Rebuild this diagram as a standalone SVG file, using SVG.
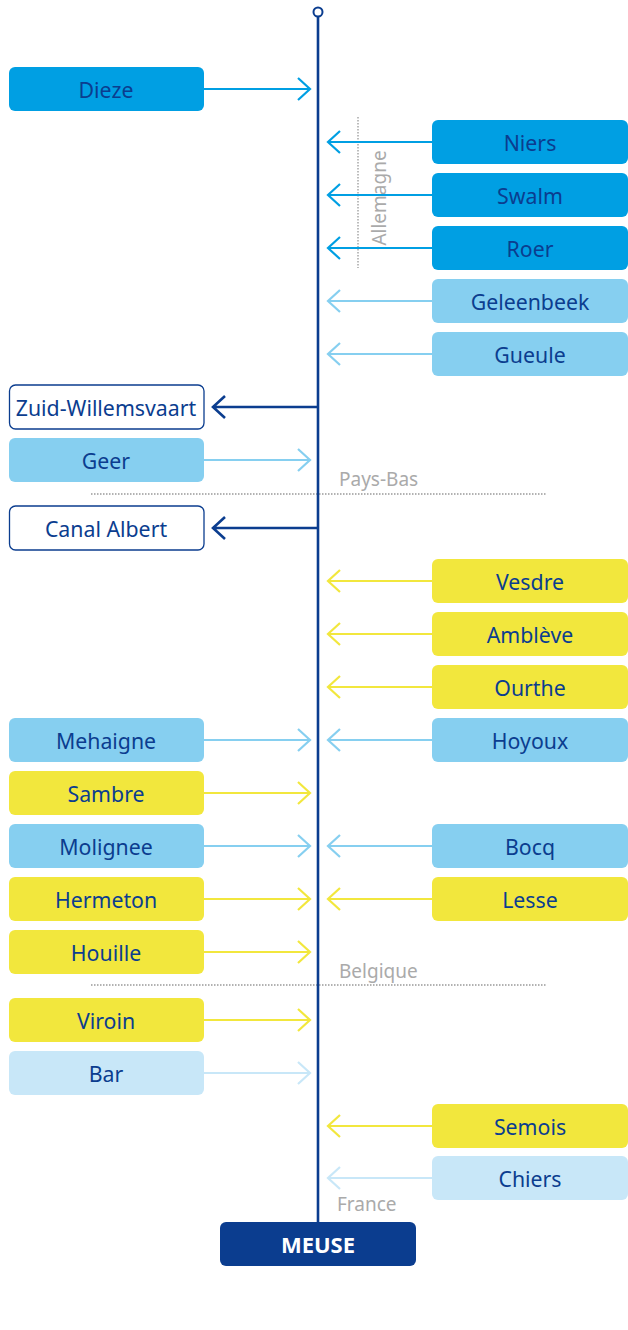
<svg xmlns="http://www.w3.org/2000/svg" width="628" height="1330" viewBox="0 0 628 1330">
<style>
.box{stroke:none}
.b1{fill:#009fe3}.b2{fill:#86cff0}.b3{fill:#c8e7f8}.by{fill:#f2e73d}
.bo{fill:#ffffff;stroke:#0b3d8f;stroke-width:1.3}
.t{font-family:"Noto Sans","Open Sans",sans-serif;font-size:21.3px;fill:#0b3d8f;text-anchor:middle}
.g{font-family:"Noto Sans","Open Sans",sans-serif;font-size:19px;fill:#aaaaaa}
.c{fill:none;stroke-width:2.2}
.c1{stroke:#009fe3}.c2{stroke:#86cff0}.c3{stroke:#c8e7f8}.cy{stroke:#f2e73d}.cd{stroke:#0b3d8f;stroke-width:2.6}
.dot{stroke:#999;stroke-width:1.3;stroke-dasharray:1.5 1.5;fill:none}
</style>
<rect width="628" height="1330" fill="#ffffff"/>
<g id="borders">
<line class="dot" x1="358" y1="117" x2="358" y2="268"/>
<text class="g" transform="translate(386,198) rotate(-90)" text-anchor="middle">Allemagne</text>
<line class="dot" x1="91" y1="494" x2="546" y2="494"/>
<text class="g" x="339" y="486">Pays-Bas</text>
<line class="dot" x1="91" y1="985" x2="546" y2="985"/>
<text class="g" x="339" y="978">Belgique</text>
<text class="g" x="337" y="1211">France</text>
</g>
<g id="connectors">
<line x1="318" y1="16.5" x2="318" y2="1222" stroke="#0b3d8f" stroke-width="2.6"/>
<circle cx="318" cy="12" r="4.5" fill="#fff" stroke="#0b3d8f" stroke-width="2"/>
<path class="c c1" d="M204 89H310M298 78L310 89L298 100"/>
<path class="c c1" d="M432 142H328M340 131L328 142L340 153"/>
<path class="c c1" d="M432 195H328M340 184L328 195L340 206"/>
<path class="c c1" d="M432 248H328M340 237L328 248L340 259"/>
<path class="c c2" d="M432 301H328M340 290L328 301L340 312"/>
<path class="c c2" d="M432 354H328M340 343L328 354L340 365"/>
<path class="c cd" d="M318 407H213M225 396L213 407L225 418"/>
<path class="c c2" d="M204 460H310M298 449L310 460L298 471"/>
<path class="c cd" d="M318 528H213M225 517L213 528L225 539"/>
<path class="c cy" d="M432 581H328M340 570L328 581L340 592"/>
<path class="c cy" d="M432 634H328M340 623L328 634L340 645"/>
<path class="c cy" d="M432 687H328M340 676L328 687L340 698"/>
<path class="c c2" d="M204 740H310M298 729L310 740L298 751"/>
<path class="c c2" d="M432 740H328M340 729L328 740L340 751"/>
<path class="c cy" d="M204 793H310M298 782L310 793L298 804"/>
<path class="c c2" d="M204 846H310M298 835L310 846L298 857"/>
<path class="c c2" d="M432 846H328M340 835L328 846L340 857"/>
<path class="c cy" d="M204 899H310M298 888L310 899L298 910"/>
<path class="c cy" d="M432 899H328M340 888L328 899L340 910"/>
<path class="c cy" d="M204 952H310M298 941L310 952L298 963"/>
<path class="c cy" d="M204 1020H310M298 1009L310 1020L298 1031"/>
<path class="c c3" d="M204 1073H310M298 1062L310 1073L298 1084"/>
<path class="c cy" d="M432 1126H328M340 1115L328 1126L340 1137"/>
<path class="c c3" d="M432 1178H328M340 1167L328 1178L340 1189"/>
</g>
<g id="n-dieze"><rect class="box b1" x="9" y="67" width="195" height="44" rx="6"/><text class="t" x="106" y="98">Dieze</text></g>
<g id="n-niers"><rect class="box b1" x="432" y="120" width="196" height="44" rx="6"/><text class="t" x="530" y="151">Niers</text></g>
<g id="n-swalm"><rect class="box b1" x="432" y="173" width="196" height="44" rx="6"/><text class="t" x="530" y="204">Swalm</text></g>
<g id="n-roer"><rect class="box b1" x="432" y="226" width="196" height="44" rx="6"/><text class="t" x="530" y="257">Roer</text></g>
<g id="n-geleenbeek"><rect class="box b2" x="432" y="279" width="196" height="44" rx="6"/><text class="t" x="530" y="310">Geleenbeek</text></g>
<g id="n-gueule"><rect class="box b2" x="432" y="332" width="196" height="44" rx="6"/><text class="t" x="530" y="363">Gueule</text></g>
<g id="n-zuid"><rect class="bo" x="9.5" y="385" width="194.5" height="44" rx="6"/><text class="t" x="106" y="416">Zuid-Willemsvaart</text></g>
<g id="n-geer"><rect class="box b2" x="9" y="438" width="195" height="44" rx="6"/><text class="t" x="106" y="469">Geer</text></g>
<g id="n-canal"><rect class="bo" x="9.5" y="506" width="194.5" height="44" rx="6"/><text class="t" x="106" y="537">Canal Albert</text></g>
<g id="n-vesdre"><rect class="box by" x="432" y="559" width="196" height="44" rx="6"/><text class="t" x="530" y="590">Vesdre</text></g>
<g id="n-ambleve"><rect class="box by" x="432" y="612" width="196" height="44" rx="6"/><text class="t" x="530" y="643">Amblève</text></g>
<g id="n-ourthe"><rect class="box by" x="432" y="665" width="196" height="44" rx="6"/><text class="t" x="530" y="696">Ourthe</text></g>
<g id="n-mehaigne"><rect class="box b2" x="9" y="718" width="195" height="44" rx="6"/><text class="t" x="106" y="749">Mehaigne</text></g>
<g id="n-hoyoux"><rect class="box b2" x="432" y="718" width="196" height="44" rx="6"/><text class="t" x="530" y="749">Hoyoux</text></g>
<g id="n-sambre"><rect class="box by" x="9" y="771" width="195" height="44" rx="6"/><text class="t" x="106" y="802">Sambre</text></g>
<g id="n-molignee"><rect class="box b2" x="9" y="824" width="195" height="44" rx="6"/><text class="t" x="106" y="855">Molignee</text></g>
<g id="n-bocq"><rect class="box b2" x="432" y="824" width="196" height="44" rx="6"/><text class="t" x="530" y="855">Bocq</text></g>
<g id="n-hermeton"><rect class="box by" x="9" y="877" width="195" height="44" rx="6"/><text class="t" x="106" y="908">Hermeton</text></g>
<g id="n-lesse"><rect class="box by" x="432" y="877" width="196" height="44" rx="6"/><text class="t" x="530" y="908">Lesse</text></g>
<g id="n-houille"><rect class="box by" x="9" y="930" width="195" height="44" rx="6"/><text class="t" x="106" y="961">Houille</text></g>
<g id="n-viroin"><rect class="box by" x="9" y="998" width="195" height="44" rx="6"/><text class="t" x="106" y="1029">Viroin</text></g>
<g id="n-bar"><rect class="box b3" x="9" y="1051" width="195" height="44" rx="6"/><text class="t" x="106" y="1082">Bar</text></g>
<g id="n-semois"><rect class="box by" x="432" y="1104" width="196" height="44" rx="6"/><text class="t" x="530" y="1135">Semois</text></g>
<g id="n-chiers"><rect class="box b3" x="432" y="1156" width="196" height="44" rx="6"/><text class="t" x="530" y="1187">Chiers</text></g>
<g id="n-meuse"><rect x="220" y="1222" width="196" height="44" rx="6" fill="#0b3d8f"/><text class="t" x="318" y="1253" style="fill:#ffffff;font-weight:bold;font-size:22px">MEUSE</text></g>
</svg>
